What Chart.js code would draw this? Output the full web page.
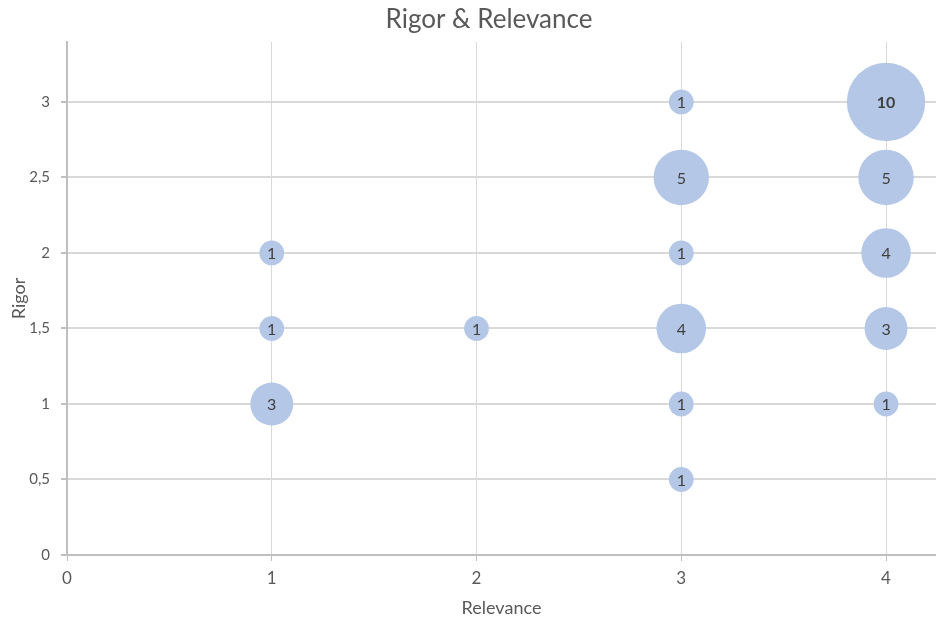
<!DOCTYPE html>
<html>
<head>
<meta charset="utf-8">
<script src="https://cdn.jsdelivr.net/npm/chart.js@4.4.1/dist/chart.umd.min.js"></script>
<style>
html,body{margin:0;padding:0;background:#fff;}
#wrap{width:936px;height:621px;position:relative;}
</style>
</head>
<body>
<div id="wrap"><canvas id="c" width="936" height="621"></canvas></div>
<script>
const chartTitle = "Rigor & Relevance";
const xTitle = "Relevance";
const yTitle = "Rigor";
const relevance = [1, 1, 1, 2, 3, 3, 3, 3, 3, 3, 4, 4, 4, 4, 4];
const rigor     = [2, 1.5, 1, 1.5, 3, 2.5, 2, 1.5, 1, 0.5, 3, 2.5, 2, 1.5, 1];
const counts    = [1, 1, 3, 1, 1, 5, 1, 4, 1, 1, 10, 5, 4, 3, 1];
const xTicks = [0, 1, 2, 3, 4];
const yTicks = [0, 0.5, 1, 1.5, 2, 2.5, 3];

const FONT = "Lato, 'Open Sans', sans-serif";
const points = relevance.map((x, i) => ({ x: x, y: rigor[i], r: 12.4 * Math.sqrt(counts[i]) }));

const labelPlugin = {
  id: 'bubbleLabels',
  afterDatasetsDraw(chart) {
    const ctx = chart.ctx;
    const meta = chart.getDatasetMeta(0);
    ctx.save();
    ctx.fillStyle = '#404040';
    ctx.textAlign = 'center';
    ctx.textBaseline = 'middle';
    meta.data.forEach((el, i) => {
      const n = counts[i];
      ctx.font = (n >= 10 ? '700 ' : '400 ') + '16px ' + FONT;
      ctx.fillText(String(n), el.x, el.y + 1);
    });
    ctx.restore();
  }
};
const titlePlugin = {
  id: 'customTitle',
  afterDraw(chart) {
    const ctx = chart.ctx;
    ctx.save();
    ctx.fillStyle = '#595959';
    ctx.font = '400 26px ' + FONT;
    ctx.textAlign = 'center';
    ctx.textBaseline = 'middle';
    ctx.fillText(chartTitle, 489, 20);
    ctx.restore();
  }
};

new Chart(document.getElementById('c'), {
  type: 'bubble',
  data: {
    datasets: [{
      data: points,
      backgroundColor: '#b4c7e7',
      borderColor: '#b4c7e7',
      borderWidth: 0,
      clip: false
    }]
  },
  options: {
    responsive: false,
    animation: false,
    devicePixelRatio: 1,
    layout: { autoPadding: false, padding: { top: 42, right: 0, left: 0, bottom: 0 } },
    plugins: { legend: { display: false }, tooltip: { enabled: false } },
    scales: {
      x: {
        type: 'linear',
        min: 0,
        max: 4.244,
        afterBuildTicks(scale) { scale.ticks = xTicks.map(v => ({ value: v })); },
        afterFit(scale) { scale.height = 66; },
        grid: { color: '#d9d9d9', lineWidth: 1, tickLength: 6, tickColor: '#bfbfbf', drawTicks: true },
        border: { color: '#bfbfbf', width: 2 },
        ticks: { color: '#595959', font: { family: FONT, size: 17 }, padding: 7, maxRotation: 0,
                 callback: v => String(v).replace('.', ',') },
        title: { display: true, text: xTitle, color: '#595959', font: { family: FONT, size: 18 }, padding: { top: 0, bottom: 2 } }
      },
      y: {
        type: 'linear',
        min: 0,
        max: 3.397,
        afterBuildTicks(scale) { scale.ticks = yTicks.map(v => ({ value: v })); },
        afterFit(scale) { scale.width = 67; },
        grid: { color: '#d9d9d9', lineWidth: 2, tickLength: 6, tickColor: '#bfbfbf', drawTicks: true },
        border: { color: '#bfbfbf', width: 2 },
        ticks: { color: '#595959', font: { family: FONT, size: 15 }, padding: 11,
                 callback: v => String(v).replace('.', ',') },
        title: { display: true, text: yTitle, color: '#595959', font: { family: FONT, size: 18 }, padding: { top: 8, bottom: 0 } }
      }
    }
  },
  plugins: [labelPlugin, titlePlugin]
});
</script>
</body>
</html>
